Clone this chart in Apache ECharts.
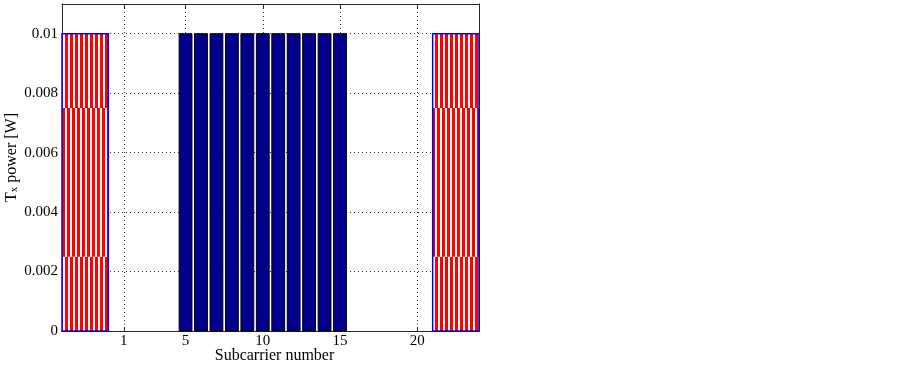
<!DOCTYPE html>
<html lang="en">
<head>
  <meta charset="UTF-8">
  <title>Tx power per subcarrier</title>
  <style>
    body {
      margin: 0;
      background-color: #fff;
    }
    #chart {
      width: 903px;
      height: 365px;
    }
  </style>
  <script src="https://cdn.jsdelivr.net/npm/echarts@6/dist/echarts.min.js"></script>
</head>
<body>
  <div id="chart"></div>

  <script>
    // data
    var subcarriers = [5, 6, 7, 8, 9, 10, 11, 12, 13, 14, 15];
    var txPower = [0.01, 0.01, 0.01, 0.01, 0.01, 0.01, 0.01, 0.01, 0.01, 0.01, 0.01];
    // hatched (guard) blocks: x start, x end
    var guardBands = [[-3, 0], [21, 24]];
    var guardPower = 0.01;
    // levels where the hatch pattern breaks
    var hatchBreaks = [0, 0.0025, 0.0075, 0.01];
    var xTickValues = [1, 5, 10, 15, 20];
    var xRange = [-3, 24];
    var yRange = [0, 0.011];

    var FONT = 'Liberation Serif';
    var AXIS_COLOR = '#262626';
    var GRID_COLOR = '#333';
    var BAR_WIDTH = 0.83;

    // vertical red / white stripes
    function makeStripes(offset) {
      var c = document.createElement('canvas');
      c.width = 5;
      c.height = 4;
      var ctx = c.getContext('2d');
      ctx.fillStyle = '#ffffff';
      ctx.fillRect(0, 0, 5, 4);
      ctx.fillStyle = '#ff0000';
      for (var i = -1; i < 2; i++) {
        ctx.fillRect(offset + i * 5, 0, 3, 4);
      }
      return c;
    }
    var stripesA = makeStripes(0);
    var stripesB = makeStripes(2);

    var guardData = [];
    guardBands.forEach(function (b) {
      for (var k = 0; k < hatchBreaks.length - 1; k++) {
        guardData.push([b[0], b[1], hatchBreaks[k], hatchBreaks[k + 1], k % 2]);
      }
    });

    var barData = subcarriers.map(function (s, i) { return [s, txPower[i]]; });

    function boxAxisLine() {
      return { onZero: false, lineStyle: { color: AXIS_COLOR, width: 1 } };
    }

    var chart = echarts.init(document.getElementById('chart'));

    chart.setOption({
      animation: false,
      backgroundColor: '#ffffff',
      grid: {
        left: 62,
        top: 4,
        width: 417,
        height: 327,
        outerBoundsMode: 'none',
        containLabel: false
      },
      xAxis: [
        {
          type: 'value',
          min: xRange[0],
          max: xRange[1],
          name: 'Subcarrier number',
          nameLocation: 'middle',
          nameGap: 17,
          nameMoveOverlap: false,
          nameTextStyle: {
            fontFamily: FONT,
            fontSize: 16,
            color: '#000',
            verticalAlign: 'top',
            padding: [0, 0, 0, 8]
          },
          axisLine: boxAxisLine(),
          axisTick: {
            inside: true,
            length: 4,
            customValues: xTickValues,
            lineStyle: { color: AXIS_COLOR }
          },
          axisLabel: {
            customValues: xTickValues,
            fontFamily: FONT,
            fontSize: 15,
            color: '#000',
            margin: 3
          },
          splitLine: {
            show: true,
            lineStyle: { color: GRID_COLOR, type: [1, 3], width: 1 }
          }
        },
        {
          type: 'value',
          position: 'top',
          min: xRange[0],
          max: xRange[1],
          axisLine: boxAxisLine(),
          axisTick: {
            inside: true,
            length: 4,
            customValues: xTickValues,
            lineStyle: { color: AXIS_COLOR }
          },
          axisLabel: { show: false },
          splitLine: { show: false }
        }
      ],
      yAxis: [
        {
          type: 'value',
          min: yRange[0],
          max: yRange[1],
          interval: 0.002,
          name: '{t|T}{s|x}{t| power [W]}',
          nameLocation: 'middle',
          nameGap: 42,
          nameRotate: 90,
          nameMoveOverlap: false,
          nameTextStyle: {
            padding: [0, 0, 0, 20],
            rich: {
              t: { fontFamily: FONT, fontSize: 16, color: '#000' },
              s: { fontFamily: FONT, fontSize: 11, color: '#000', verticalAlign: 'bottom', padding: [6, 0, 0, 0] }
            }
          },
          axisLine: boxAxisLine(),
          axisTick: { inside: true, length: 4, lineStyle: { color: AXIS_COLOR } },
          axisLabel: {
            showMaxLabel: false,
            fontFamily: FONT,
            fontSize: 15,
            color: '#000',
            margin: 4,
            formatter: function (v) { return v === 0 ? '0' : String(+v.toFixed(4)); }
          },
          splitLine: {
            show: true,
            lineStyle: { color: GRID_COLOR, type: [1, 3], width: 1 }
          }
        },
        {
          type: 'value',
          position: 'right',
          min: yRange[0],
          max: yRange[1],
          interval: 0.002,
          axisLine: boxAxisLine(),
          axisTick: { inside: true, length: 4, lineStyle: { color: AXIS_COLOR } },
          axisLabel: { show: false },
          splitLine: { show: false }
        }
      ],
      series: [
        {
          type: 'custom',
          name: 'guard',
          xAxisIndex: 0,
          yAxisIndex: 0,
          data: guardData,
          renderItem: function (params, api) {
            var p0 = api.coord([api.value(0), api.value(3)]);
            var p1 = api.coord([api.value(1), api.value(2)]);
            var rect = echarts.graphic.clipRectByRect({
              x: p0[0], y: p0[1], width: p1[0] - p0[0], height: p1[1] - p0[1]
            }, params.coordSys);
            if (!rect) return;
            return {
              type: 'rect',
              shape: rect,
              style: {
                fill: { image: api.value(4) ? stripesB : stripesA, repeat: 'repeat' },
                stroke: null
              }
            };
          }
        },
        {
          type: 'custom',
          name: 'guard outline',
          xAxisIndex: 0,
          yAxisIndex: 0,
          data: guardBands.map(function (b) { return [b[0], b[1], guardPower]; }),
          renderItem: function (params, api) {
            var p0 = api.coord([api.value(0), api.value(2)]);
            var p1 = api.coord([api.value(1), 0]);
            return {
              type: 'rect',
              shape: { x: p0[0], y: p0[1], width: p1[0] - p0[0], height: p1[1] - p0[1] },
              style: { fill: null, stroke: '#0000ff', lineWidth: 1.5 }
            };
          }
        },
        {
          type: 'custom',
          name: 'Tx power',
          xAxisIndex: 0,
          yAxisIndex: 0,
          data: barData,
          renderItem: function (params, api) {
            var x = api.value(0);
            var p0 = api.coord([x - BAR_WIDTH / 2, api.value(1)]);
            var p1 = api.coord([x + BAR_WIDTH / 2, 0]);
            return {
              type: 'rect',
              shape: { x: p0[0], y: p0[1], width: p1[0] - p0[0], height: p1[1] - p0[1] },
              style: { fill: '#00008c', stroke: '#000', lineWidth: 1 }
            };
          }
        }
      ]
    });
  </script>
</body>
</html>
